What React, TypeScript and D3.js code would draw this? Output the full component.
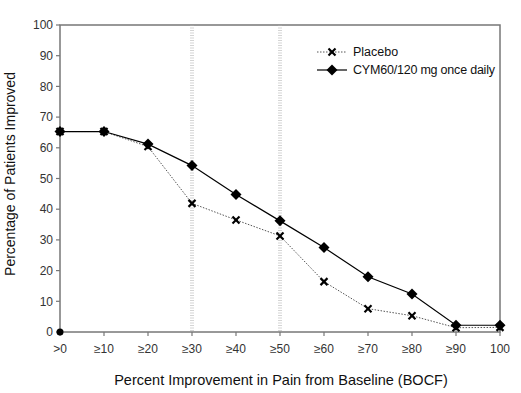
import React from 'react';
import * as d3 from 'd3';

const categories = ['>0', '≥10', '≥20', '≥30', '≥40', '≥50', '≥60', '≥70', '≥80', '≥90', '100'];
const placebo = [65.3, 65.3, 60.4, 41.9, 36.5, 31.3, 16.4, 7.6, 5.3, 1.4, 1.5];
const cym = [65.3, 65.3, 61.2, 54.2, 44.8, 36.2, 27.5, 18.0, 12.4, 2.2, 2.2];
const yTicks = [0, 10, 20, 30, 40, 50, 60, 70, 80, 90, 100];
const refLines = ['≥30', '≥50'];

const W = 521;
const H = 393;
const m = { left: 60, right: 21, top: 25, bottom: 61 };

export default function App() {
  const x = d3.scalePoint<string>()
    .domain(categories)
    .range([m.left, W - m.right]);
  const y = d3.scaleLinear()
    .domain([0, 100])
    .range([H - m.bottom, m.top]);

  const line = d3.line<number>()
    .x((_, i) => x(categories[i])!)
    .y(d => y(d));

  const font = 'Liberation Sans, Arial, sans-serif';
  const axisColor = '#777';

  const cross = (cx: number, cy: number, k: string) => (
    <g key={k} stroke="#000" strokeWidth={2.2}>
      <line x1={cx - 3.5} y1={cy - 3.5} x2={cx + 3.5} y2={cy + 3.5} />
      <line x1={cx - 3.5} y1={cy + 3.5} x2={cx + 3.5} y2={cy - 3.5} />
    </g>
  );
  const diamond = (cx: number, cy: number, k: string) => (
    <path key={k} d={`M${cx},${cy - 5.5}L${cx + 5.5},${cy}L${cx},${cy + 5.5}L${cx - 5.5},${cy}Z`} fill="#000" />
  );

  return (
    <svg width={W} height={H} style={{ position: 'absolute', left: 0, top: 0, background: '#fff' }} fontFamily={font}>
      {/* frame */}
      <rect x={m.left} y={m.top} width={W - m.left - m.right} height={H - m.top - m.bottom}
        fill="none" stroke={axisColor} strokeWidth={1.5} />

      {/* reference lines */}
      {refLines.map(c => (
        <g key={c} stroke="#aaa" strokeWidth={1} strokeDasharray="1,1.5">
          <line x1={x(c)! - 1} x2={x(c)! - 1} y1={y(100)} y2={y(0)} />
          <line x1={x(c)! + 1} x2={x(c)! + 1} y1={y(100)} y2={y(0)} />
        </g>
      ))}

      {/* y axis */}
      {yTicks.map(t => (
        <g key={t}>
          <line x1={m.left - 4} x2={m.left} y1={y(t)} y2={y(t)} stroke={axisColor} strokeWidth={1.2} />
          <text x={m.left - 7} y={y(t)} dy="0.35em" textAnchor="end" fontSize={12} fill="#333">{t}</text>
        </g>
      ))}

      {/* x axis */}
      {categories.map(c => (
        <g key={c}>
          <line x1={x(c)} x2={x(c)} y1={y(0)} y2={y(0) + 4} stroke={axisColor} strokeWidth={1.2} />
          <text x={x(c)} y={y(0) + 21} textAnchor="middle" fontSize={12} fill="#333">{c}</text>
        </g>
      ))}

      <text x={281} y={H - 8} textAnchor="middle" fontSize={14.5} fill="#111">
        Percent Improvement in Pain from Baseline (BOCF)
      </text>
      <text transform={`translate(15,174) rotate(-90)`} textAnchor="middle" fontSize={14} fill="#111">
        Percentage of Patients Improved
      </text>

      {/* series */}
      <path d={line(placebo)!} fill="none" stroke="#555" strokeWidth={1} strokeDasharray="1.5,1.5" />
      <path d={line(cym)!} fill="none" stroke="#000" strokeWidth={1.2} />
      {placebo.map((v, i) => cross(x(categories[i])!, y(v), 'p' + i))}
      {cym.map((v, i) => diamond(x(categories[i])!, y(v), 'c' + i))}
      <circle cx={x(categories[0])} cy={y(0)} r={3.5} fill="#000" />

      {/* legend */}
      <g>
        <line x1={317} x2={347} y1={52} y2={52} stroke="#555" strokeDasharray="1.5,1.5" />
        {cross(332, 52, 'lp')}
        <text x={353} y={52} dy="0.35em" fontSize={12.5} fill="#111">Placebo</text>
        <line x1={317} x2={347} y1={70} y2={70} stroke="#000" strokeWidth={1.2} />
        {diamond(332, 70, 'lc')}
        <text x={353} y={70} dy="0.35em" fontSize={12.5} fill="#111" textLength={142}>CYM60/120 mg once daily</text>
      </g>
    </svg>
  );
}
